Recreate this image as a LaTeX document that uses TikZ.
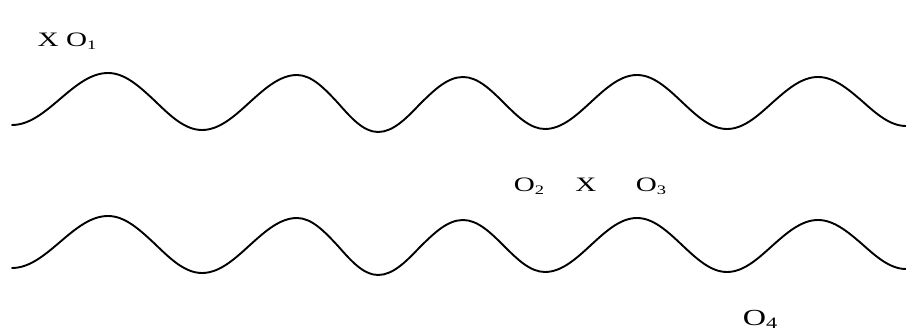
\documentclass[tikz,border=0pt]{standalone}
\usepackage{fontspec}
\setmainfont{Liberation Serif}
\newcommand\mysub[1]{\raisebox{-0.12em}{\fontsize{13}{13}\selectfont #1}}
\newcommand\mybigsub[1]{\raisebox{-0.12em}{\fontsize{16}{16}\selectfont #1}}
\begin{document}
\begin{tikzpicture}[x=1pt,y=-1pt,
  waveline/.style={line width=1.9pt,line cap=round,line join=round,black},
  lbl/.style={inner sep=0pt,font=\fontsize{20.5}{20.5}\selectfont,xscale=1.42,anchor=base},
  biglbl/.style={inner sep=0pt,font=\fontsize{23}{23}\selectfont,xscale=1.4,anchor=base},
  wave/.pic={
    \draw[waveline] (12,125) cos (60,99) sin (108,73)
      cos (155,101) sin (202,130)
      cos (250,102) sin (297,75)
      cos (338,103) sin (378,132)
      cos (420,104) sin (463,77)
      cos (504,103) sin (545,129)
      cos (591,102) sin (637,75)
      cos (682,102) sin (727,129)
      cos (772,103) sin (818,77)
      cos (862,101) sin (906,126);
  }]
\useasboundingbox (0,0) rectangle (906,336);
\pic at (0,0) {wave};
\pic at (0,143) {wave};
\node[lbl] (xo1) at (67,47) {X O\mysub{1}};
\node[lbl] (o2) at (529,192) {O\mysub{2}};
\node[lbl] (x2) at (586,192) {X};
\node[lbl] (o3) at (651,192) {O\mysub{3}};
\node[biglbl] (o4) at (760,326) {O\mybigsub{4}};
\end{tikzpicture}
\end{document}
